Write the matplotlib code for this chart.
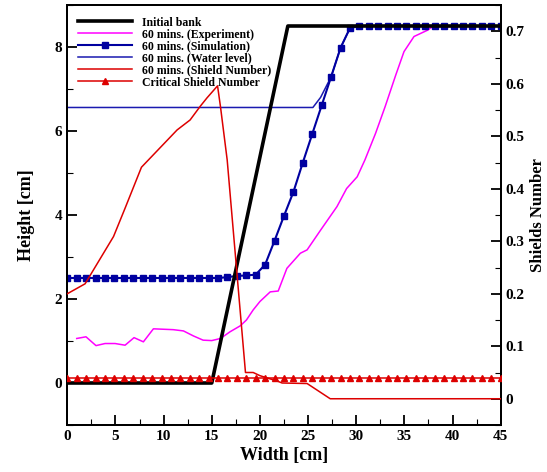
import numpy as np
import matplotlib
matplotlib.use("Agg")
import matplotlib.pyplot as plt
from matplotlib.ticker import MultipleLocator

plt.rcParams['font.family'] = ['Liberation Serif', 'DejaVu Serif']
plt.rcParams['font.weight'] = 'bold'

# Initial bank
bank_x = [0, 15, 22.9, 45]
bank_y = [0, 0, 8.5, 8.5]

# Experiment (60 mins)
exp_x = [0.98, 1.94, 2.98, 3.92, 4.96, 6.0, 6.93, 7.9, 8.94, 11.0, 12.06, 13.1, 14.1, 15.0,
         15.9, 16.9, 17.95, 18.6, 19.3, 20.0, 21.07, 21.9, 22.8, 24.2, 24.9, 26.3, 28.0,
         29.0, 30.1, 30.9, 32.0, 33.0, 34.1, 34.96, 36.0, 37.4, 37.9, 45.0]
exp_y = [1.06, 1.10, 0.89, 0.94, 0.94, 0.90, 1.08, 0.98, 1.29, 1.27, 1.24, 1.12, 1.02, 1.01,
         1.06, 1.22, 1.36, 1.50, 1.74, 1.94, 2.17, 2.19, 2.73, 3.09, 3.17, 3.64, 4.20,
         4.63, 4.91, 5.31, 5.94, 6.58, 7.33, 7.89, 8.25, 8.40, 8.48, 8.50]

# Simulation (60 mins), 47 grid nodes across 0-45 cm
sim_x = np.linspace(0, 45, 47)
sim_y = [2.5, 2.5, 2.5, 2.5, 2.5, 2.5, 2.5, 2.5, 2.5, 2.5,
         2.5, 2.5, 2.5, 2.5, 2.5, 2.5, 2.5, 2.52, 2.55, 2.56,
         2.58, 2.82, 3.39, 3.98, 4.55, 5.25, 5.93, 6.61, 7.29, 7.98,
         8.45, 8.5, 8.5, 8.5, 8.5, 8.5, 8.5, 8.5, 8.5, 8.5,
         8.5, 8.5, 8.5, 8.5, 8.5, 8.5, 8.5]

# Water level
water_x = [0, 25.5, 26.3, 27.39, 28.37, 29.35, 30.3, 45]
water_y = [6.56, 6.56, 6.8, 7.29, 7.98, 8.45, 8.5, 8.5]

# Shield number (right axis)
shield_x = [0, 1.85, 4.8, 6.0, 7.7, 11.4, 12.75, 13.8, 14.5, 15.6, 15.9, 16.6, 18.5,
            19.3, 20.0, 21.9, 22.3, 24.9, 27.3, 45]
shield_y = [0.200, 0.219, 0.309, 0.363, 0.441, 0.512, 0.531, 0.557, 0.573, 0.596, 0.557,
            0.455, 0.050, 0.050, 0.044, 0.033, 0.030, 0.029, 0.0, 0.0]

# Critical Shield number
crit_x = np.linspace(0, 45, 47)
crit_y = [0.04] * 47

labels = ['Initial bank', '60 mins. (Experiment)', '60 mins. (Simulation)',
          '60 mins. (Water level)', '60 mins. (Shield Number)', 'Critical Shield Number']

fig = plt.figure(figsize=(5.47, 4.72), dpi=100)
ax = fig.add_axes([67.3/547, 47/472, 433.4/547, 420/472])
ax2 = ax.twinx()

h2, = ax.plot(exp_x, exp_y, color='#FF00FF', lw=1.1, zorder=2)
h4, = ax.plot(water_x, water_y, color='#1a1aB0', lw=1.1, zorder=2)
h3, = ax.plot(sim_x, sim_y, color='#0000A0', lw=1.5, marker='s', ms=5, zorder=3)
h1, = ax.plot(bank_x, bank_y, color='black', lw=2.6, zorder=4)
h5, = ax2.plot(shield_x, shield_y, color='#DD0000', lw=1.1, zorder=3)
h6, = ax2.plot(crit_x, crit_y, color='#DD0000', lw=1.1, marker='^', ms=5, zorder=4)

ax.set_xlim(0, 45)
ax.set_ylim(-1, 9)
ax2.set_ylim(-0.05, 0.75)

ax.xaxis.set_major_locator(MultipleLocator(5))
ax.xaxis.set_minor_locator(MultipleLocator(2.5))
ax.yaxis.set_major_locator(MultipleLocator(2))
ax.yaxis.set_minor_locator(MultipleLocator(1))
ax2.yaxis.set_major_locator(MultipleLocator(0.1))
ax2.yaxis.set_minor_locator(MultipleLocator(0.05))
ax.set_yticks([0, 2, 4, 6, 8])
ax2.set_yticks([0, 0.1, 0.2, 0.3, 0.4, 0.5, 0.6, 0.7])
ax2.set_yticklabels(['0', '0.1', '0.2', '0.3', '0.4', '0.5', '0.6', '0.7'])

for a in (ax, ax2):
    a.tick_params(which='major', direction='in', length=7, width=1.3, labelsize=11)
    a.tick_params(which='minor', direction='in', length=4, width=0.8)
    for s in a.spines.values():
        s.set_linewidth(1.4)
ax.tick_params(axis='y', which='both', right=False)
ax2.tick_params(axis='y', which='both', left=False)

ax.set_xlabel('Width [cm]', fontsize=13, fontweight='bold', labelpad=3)
ax.set_ylabel('Height [cm]', fontsize=13, fontweight='bold', labelpad=14)
ax2.set_ylabel('Shields Number', fontsize=12, fontweight='bold', labelpad=4)

leg = ax2.legend([h1, h2, h3, h4, h5, h6], labels, loc='upper left',
                 bbox_to_anchor=(0.025, 0.9726), frameon=False, fontsize=8.5,
                 handlelength=4.6, handletextpad=0.8, labelspacing=0.0,
                 borderpad=0, borderaxespad=0)

fig.savefig('out.png', dpi=100)
